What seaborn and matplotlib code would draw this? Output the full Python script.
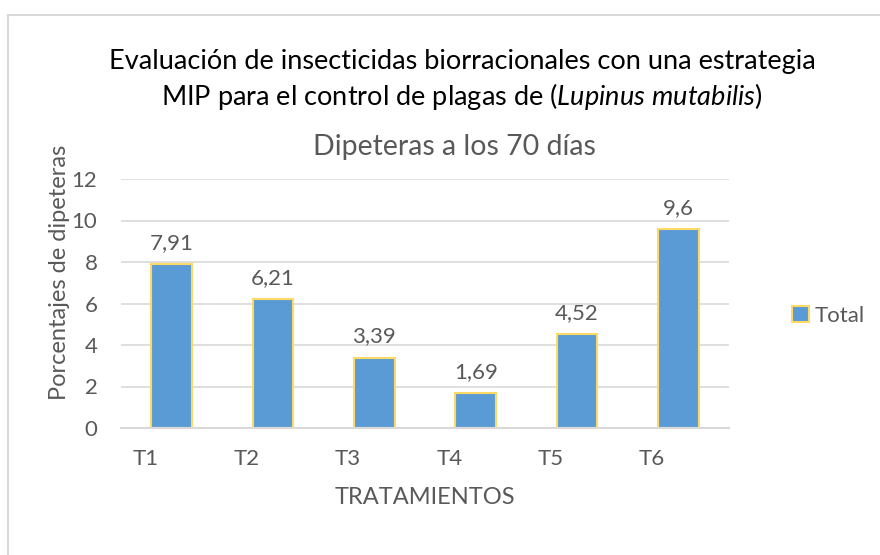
import matplotlib
matplotlib.use("Agg")
import matplotlib.pyplot as plt
import seaborn as sns
import pandas as pd
import numpy as np
from matplotlib.patches import Rectangle

# datos del grafico
tratamientos = ['T1', 'T2', 'T3', 'T4', 'T5', 'T6']
total = [7.91, 6.21, 3.39, 1.69, 4.52, 9.6]
etiquetas = ['7,91', '6,21', '3,39', '1,69', '4,52', '9,6']
yticks = [0, 2, 4, 6, 8, 10, 12]

df = pd.DataFrame({'Tratamiento': tratamientos, 'Total': total})

sns.set_style("white")
plt.rcParams['font.family'] = ['Lato', 'DejaVu Sans']
plt.rcParams['mathtext.fontset'] = 'custom'
plt.rcParams['mathtext.rm'] = 'Lato'
plt.rcParams['mathtext.it'] = 'Lato:italic'

gris = '#595959'
fig = plt.figure(figsize=(8.8, 5.55), dpi=100)
ax = fig.add_axes([121 / 880, 1 - 428 / 555, 608 / 880, 249 / 555])

sns.barplot(data=df, x='Tratamiento', y='Total', color='#5B9BD5', width=0.40,
            edgecolor='#FFD966', linewidth=1.5, saturation=1, ax=ax, label='Total')

ax.set_ylim(0, 12)
ax.set_xlim(-0.5, 5.5)
ax.set_yticks(yticks)
ax.set_yticklabels([str(v) for v in yticks], color=gris, fontsize=16)
ax.set_xticks(np.arange(len(tratamientos)) - 0.26)
ax.set_xticklabels(tratamientos, color=gris, fontsize=16)
ax.tick_params(axis='both', length=0)
ax.tick_params(axis='x', pad=15)
ax.tick_params(axis='y', pad=17)
ax.yaxis.grid(True, color='#D9D9D9', linewidth=1.2)
ax.set_axisbelow(True)
for s in ['top', 'right', 'left']:
    ax.spines[s].set_visible(False)
ax.spines['bottom'].set_color('#D9D9D9')
ax.spines['bottom'].set_linewidth(1.5)

for i, (v, t) in enumerate(zip(total, etiquetas)):
    ax.annotate(t, (i, v), xytext=(0, 8), textcoords='offset points',
                ha='center', va='bottom', color=gris, fontsize=16)

ax.set_xlabel('')
ax.set_ylabel('')
fig.text(425 / 880, 1 - 497 / 555, 'TRATAMIENTOS', ha='center', va='center',
         color=gris, fontsize=17)
fig.text(60 / 880, 1 - 272 / 555, 'Porcentajes de dipeteras', ha='center', va='center',
         rotation=90, color=gris, fontsize=17)

# titulos
fig.text(462 / 880, 1 - 62 / 555, 'Evaluación de insecticidas biorracionales con una estrategia',
         ha='center', va='center', color='black', fontsize=19.5)
fig.text(462 / 880, 1 - 97 / 555,
         r'MIP para el control de plagas de ($\mathit{Lupinus\ mutabilis}$)',
         ha='center', va='center', color='black', fontsize=19.5)
fig.text(454 / 880, 1 - 147 / 555, 'Dipeteras a los 70 días', ha='center', va='center',
         color=gris, fontsize=20.5)

leg = ax.legend(loc='center left', bbox_to_anchor=(792 / 880, 1 - 316 / 555),
                bbox_transform=fig.transFigure, frameon=False, fontsize=16,
                handlelength=0.75, handleheight=0.75, handletextpad=0.25,
                borderpad=0, borderaxespad=0)
for t in leg.get_texts():
    t.set_color(gris)

fig.add_artist(Rectangle((8 / 880, -0.01), 1.0, 1 - 15 / 555 + 0.01, transform=fig.transFigure,
                         fill=False, edgecolor='#D9D9D9', linewidth=1.5))

fig.savefig('out.png', dpi=100)
